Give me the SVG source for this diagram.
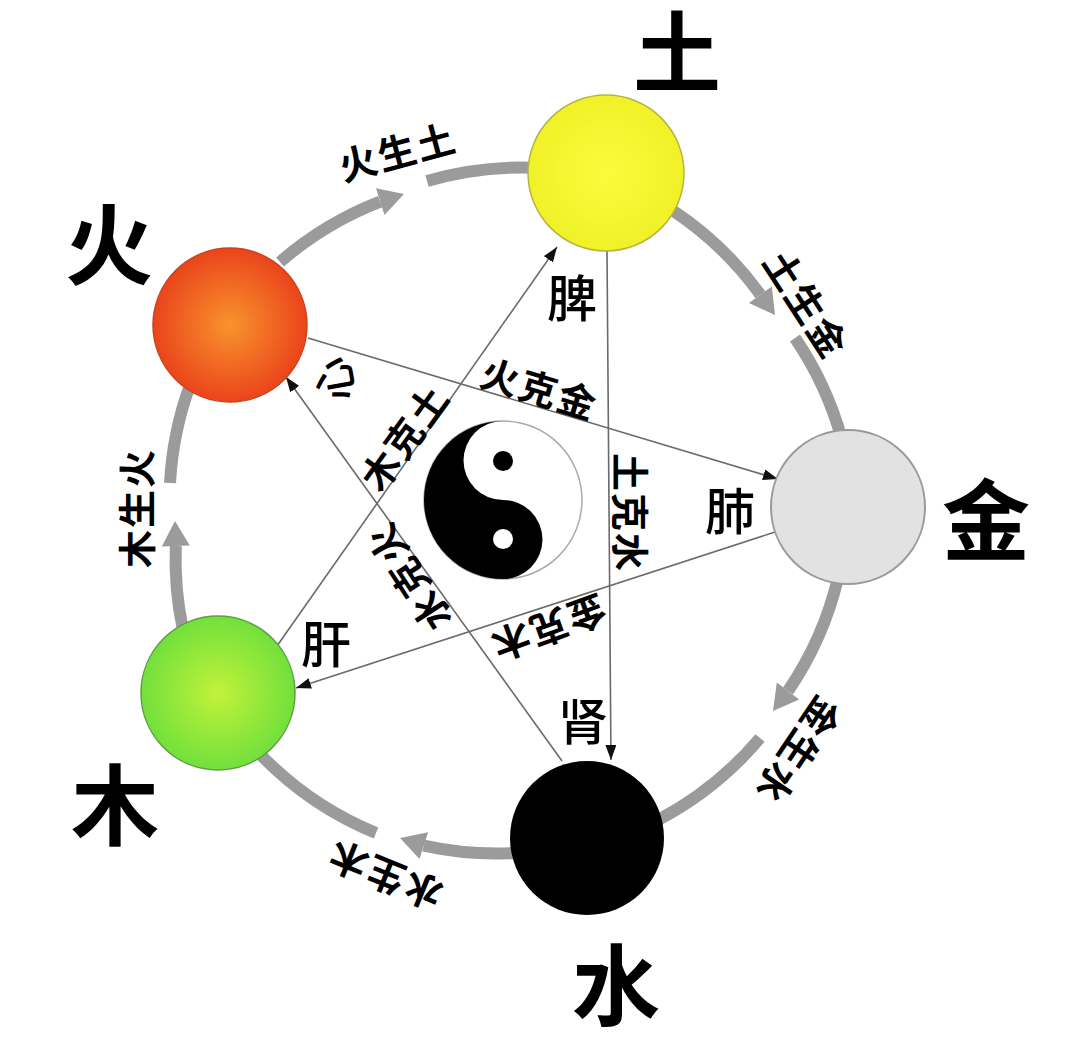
<svg xmlns="http://www.w3.org/2000/svg" width="1079" height="1039" viewBox="0 0 1079 1039">
<defs>
<style>
.ring{fill:none;stroke:#9b9b9b;stroke-width:12}
.head{fill:#9b9b9b}
.ke{fill:none;stroke:#6a6a6a;stroke-width:1.6}
.t{font-family:"Noto Sans CJK SC","Noto Sans CJK JP",sans-serif;text-anchor:middle;dominant-baseline:central;fill:#000}
.lab{font-size:38px;font-weight:700;letter-spacing:2px}
.big{font-size:88px;font-weight:700}
.org{font-size:50px;font-weight:500}
</style>
<marker id="ah" markerUnits="userSpaceOnUse" markerWidth="15" markerHeight="11" refX="15" refY="5.5" orient="auto">
<path d="M0,0 L15,5.5 L0,11 z" fill="#111"/>
</marker>
<radialGradient id="gHuo" cx="50%" cy="50%" r="50%">
<stop offset="0" stop-color="#f9932d"/>
<stop offset="1" stop-color="#ea451b"/>
</radialGradient>
<radialGradient id="gMu" cx="50%" cy="50%" r="50%">
<stop offset="0" stop-color="#c2f23a"/>
<stop offset="1" stop-color="#72e03c"/>
</radialGradient>
<radialGradient id="gTu" cx="50%" cy="50%" r="50%">
<stop offset="0" stop-color="#fbfb3c"/>
<stop offset="1" stop-color="#f1f128"/>
</radialGradient>
</defs>
<rect width="1079" height="1039" fill="#fff"/>

<g id="connectors">
<g id="sheng-cycle">
<path class="ring" d="M280,262 A340,340 0 0,1 380.2,201.6"/>
<polygon class="head" points="404,194 376.0,188.3 384.5,214.9"/>
<path class="ring" d="M427,181 A340,340 0 0,1 540,168"/>
<path class="ring" d="M672,210 A340,340 0 0,1 760.4,294.7"/>
<polygon class="head" points="775,315 771.8,286.5 749.0,302.9"/>
<path class="ring" d="M795,338 A340,340 0 0,1 842,440"/>
<path class="ring" d="M838,578 A340,340 0 0,1 788,691"/>
<polygon class="head" points="773,711 799.2,699.4 776.8,682.6"/>
<path class="ring" d="M760,738 A340,340 0 0,1 658,820"/>
<path class="ring" d="M516,853 A340,340 0 0,1 423.8,845.6"/>
<polygon class="head" points="400,838 419.5,858.9 428.1,832.3"/>
<path class="ring" d="M376,833 A340,340 0 0,1 258,752"/>
<path class="ring" d="M183,630 A340,340 0 0,1 175.8,546"/>
<polygon class="head" points="175,521 161.8,546.5 189.8,545.5"/>
<path class="ring" d="M170,483 A340,340 0 0,1 190,385"/>
</g>
<g id="ke-cycle">
<line class="ke" x1="277" y1="646" x2="557" y2="247" marker-end="url(#ah)"/>
<line class="ke" x1="607" y1="251" x2="611" y2="760" marker-end="url(#ah)"/>
<line class="ke" x1="562" y1="761" x2="286" y2="377" marker-end="url(#ah)"/>
<line class="ke" x1="308" y1="338" x2="778" y2="479" marker-end="url(#ah)"/>
<line class="ke" x1="775" y1="532" x2="296" y2="688" marker-end="url(#ah)"/>
</g>
<g id="labels">
<text class="t lab" transform="translate(397,150) rotate(-15)">火生土</text>
<text class="t lab" transform="translate(808,303) rotate(57)">土生金</text>
<text class="t lab" transform="translate(800,752) rotate(124)">金生水</text>
<text class="t lab" transform="translate(384,877) rotate(202)">水生木</text>
<text class="t lab" transform="translate(134,508) rotate(-90)">木生火</text>
<text class="t lab" transform="translate(540,387) rotate(17)">火克金</text>
<text class="t lab" transform="translate(403,436) rotate(-54)">木克土</text>
<text class="t lab" transform="translate(632,513) rotate(90)">土克水</text>
<text class="t lab" transform="translate(407,578) rotate(-123)">水克火</text>
<text class="t lab" transform="translate(549,630) rotate(160)">金克木</text>
</g>
</g>

<g id="taiji">
<circle cx="503" cy="500" r="79" fill="#fff" stroke="#aaa" stroke-width="1.5"/>
<path d="M503,421 A79,79 0 0,0 503,579 A39.5,39.5 0 0,0 503,500 A39.5,39.5 0 0,1 503,421 Z" fill="#000"/>
<circle cx="503" cy="461" r="10" fill="#000"/>
<circle cx="503" cy="539" r="10" fill="#fff"/>
</g>

<g id="node-tu">
<circle cx="606" cy="173" r="78" fill="url(#gTu)" stroke="#b5b543" stroke-width="1.5"/>
<text class="t big" x="677" y="46">土</text>
<text class="t org" x="572" y="295">脾</text>
</g>
<g id="node-huo">
<circle cx="230" cy="325" r="77" fill="url(#gHuo)" stroke="#c9441c" stroke-width="1.5"/>
<text class="t big" x="109" y="239">火</text>
<text class="t org" transform="translate(332,380) rotate(-100)" style="font-size:44px">心</text>
</g>
<g id="node-jin">
<circle cx="848" cy="507" r="77" fill="#e2e2e2" stroke="#9a9a9a" stroke-width="2"/>
<text class="t big" x="986" y="514">金</text>
<text class="t org" x="730" y="508">肺</text>
</g>
<g id="node-mu">
<circle cx="218" cy="693" r="77" fill="url(#gMu)" stroke="#5f9e44" stroke-width="1.5"/>
<text class="t big" x="115" y="799">木</text>
<text class="t org" x="326" y="641">肝</text>
</g>
<g id="node-shui">
<circle cx="587" cy="838" r="77" fill="#000"/>
<text class="t big" x="616" y="979">水</text>
<text class="t org" x="583" y="718">肾</text>
</g>
</svg>
